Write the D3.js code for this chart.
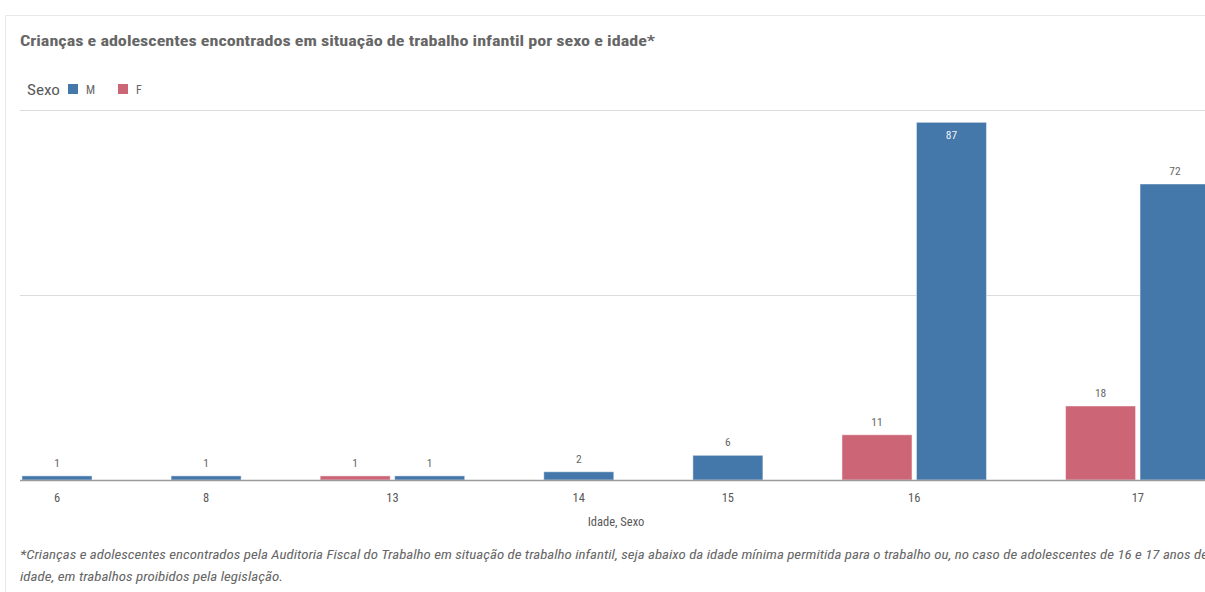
<!DOCTYPE html>
<html>
<head>
<meta charset="utf-8">
<script src="https://cdn.jsdelivr.net/npm/d3@7"></script>
<style>
  html, body { margin: 0; padding: 0; background: #fff; overflow: hidden; }
  svg { display: block; }
</style>
</head>
<body>
<svg id="chart" width="1205" height="592"></svg>
<script>
// Idades e contagens por sexo
const ages = ["6", "8", "13", "14", "15", "16", "17"];
const valuesF = [0, 0, 1, 0, 0, 11, 18];
const valuesM = [1, 1, 1, 2, 6, 87, 72];
const sexes = ["F", "M"];
const legendOrder = ["M", "F"];
const gridTicks = [45, 90];

const titleText = "Crianças e adolescentes encontrados em situação de trabalho infantil por sexo e idade*";
const noteLines = [
  "*Crianças e adolescentes encontrados pela Auditoria Fiscal do Trabalho em situação de trabalho infantil, seja abaixo da idade mínima permitida para o trabalho ou, no caso de adolescentes de 16 e 17 anos de",
  "idade, em trabalhos proibidos pela legislação."
];

const W = 1205, H = 592;
const FONT = "'Roboto Condensed', 'Liberation Sans Narrow', 'DejaVu Sans Condensed', Roboto, sans-serif";
const colors = { M: "#4477aa", F: "#cc6677" };
const svg = d3.select("#chart");

// cartão
svg.append("path")
  .attr("d", `M5.5,${H} V15.5 H${W}`)
  .attr("fill", "none").attr("stroke", "#e8e8e8").attr("stroke-width", 1);

// título
svg.append("text")
  .attr("x", 20).attr("y", 46)
  .attr("font-family", FONT).attr("font-size", 15.5).attr("font-weight", "bold")
  .attr("fill", "#666")
  .attr("textLength", 635).attr("lengthAdjust", "spacingAndGlyphs")
  .text(titleText);

// legenda
const lg = svg.append("g").attr("font-family", FONT).attr("fill", "#595959");
lg.append("text").attr("x", 27).attr("y", 95).attr("font-size", 15)
  .attr("textLength", 33).attr("lengthAdjust", "spacingAndGlyphs").text("Sexo");
const legX = { M: 68, F: 118 };
legendOrder.forEach(s => {
  lg.append("rect").attr("x", legX[s]).attr("y", 84).attr("width", 10).attr("height", 10)
    .attr("fill", colors[s]);
  lg.append("text").attr("x", legX[s] + 18).attr("y", 94).attr("font-size", 12)
    .attr("fill", "#666").text(s);
});

// barras: apenas valores não nulos, F antes de M em cada idade
const groups = ages.map((a, i) => ({
  age: a,
  bars: sexes
    .map(s => ({ age: a, sex: s, value: s === "F" ? valuesF[i] : valuesM[i] }))
    .filter(d => d.value > 0)
}));

// posições em unidades de largura de barra
const innerGap = 0.064, groupGap = 1.13;
let pos = 0;
const bars = [];
groups.forEach((g, gi) => {
  if (gi > 0) pos += groupGap;
  g.start = pos;
  g.bars.forEach((b, bi) => {
    if (bi > 0) pos += innerGap;
    b.x0 = pos;
    bars.push(b);
    pos += 1;
  });
  g.end = pos;
});

const plotLeft = 20, plotRight = W, baseY = 480, topY = 110;
const barPx = 70.0;
const x = d3.scaleLinear().domain([0, pos]).range([22, 22 + pos * barPx]);
const y = d3.scaleLinear().domain([0, 90]).range([baseY, topY]);

// linhas de grade
svg.append("g").selectAll("line").data(gridTicks).join("line")
  .attr("x1", plotLeft).attr("x2", plotRight)
  .attr("y1", d => Math.round(y(d)) + 0.5).attr("y2", d => Math.round(y(d)) + 0.5)
  .attr("stroke", "#dcdcdc").attr("stroke-width", 1);

svg.append("g").selectAll("rect").data(bars).join("rect")
  .attr("x", d => x(d.x0))
  .attr("width", x(1) - x(0))
  .attr("y", d => y(d.value))
  .attr("height", d => baseY - y(d.value))
  .attr("fill", d => colors[d.sex])
  .attr("stroke", "rgba(255,255,255,0.45)").attr("stroke-width", 1);

// linha de base
svg.append("line")
  .attr("x1", plotLeft).attr("x2", plotRight).attr("y1", baseY + 0.5).attr("y2", baseY + 0.5)
  .attr("stroke", "#9a9a9a").attr("stroke-width", 1.5);

// rótulos de valor
svg.append("g").selectAll("text").data(bars).join("text")
  .attr("x", d => x(d.x0 + 0.5))
  .attr("y", d => y(d.value) - 20 < topY ? y(d.value) + 17 : y(d.value) - 9)
  .attr("text-anchor", "middle")
  .attr("font-family", FONT).attr("font-size", 11.5)
  .attr("fill", d => y(d.value) - 20 < topY ? "#f2f2f2" : "#666")
  .text(d => d.value);

// eixo x
const xAxis = svg.append("g").attr("font-family", FONT);
xAxis.selectAll("text").data(groups).join("text")
  .attr("x", g => x((g.start + g.end) / 2))
  .attr("y", 502)
  .attr("text-anchor", "middle").attr("font-size", 12.5).attr("fill", "#595959")
  .text(g => g.age);

svg.append("text")
  .attr("x", 616).attr("y", 526).attr("text-anchor", "middle")
  .attr("font-family", FONT).attr("font-size", 12.5).attr("fill", "#595959")
  .text("Idade, Sexo");

// nota de rodapé
const noteWidths = [1188, 263];
noteLines.forEach((t, i) => {
  svg.append("text")
    .attr("x", 20).attr("y", 559 + i * 22)
    .attr("font-family", FONT).attr("font-size", 13).attr("font-style", "italic")
    .attr("fill", "#666")
    .attr("textLength", noteWidths[i]).attr("lengthAdjust", "spacingAndGlyphs")
    .text(t);
});
</script>
</body>
</html>
